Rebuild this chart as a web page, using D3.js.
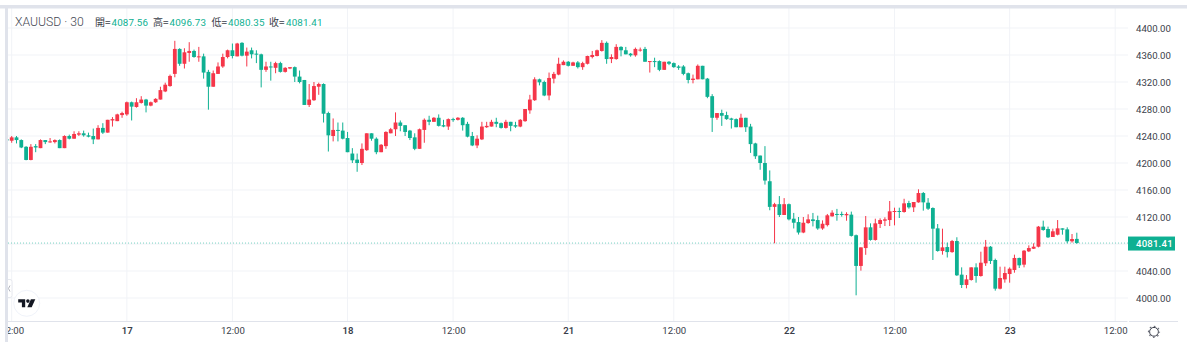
<!DOCTYPE html>
<html>
<head>
<meta charset="utf-8">
<script src="https://cdn.jsdelivr.net/npm/d3@7"></script>
<style>
    html, body { margin: 0; padding: 0; background: #fff; }
    svg { display: block; font-family: Roboto, sans-serif; }
</style>
</head>
<body>
<div id="chart"></div>
<script>
// 30 minute candles, first one is cut off by the left edge
const opens = [4235,
    4233,4238,4234,4224,4204.5,4225,4222,4234,4231,4231,
    4234,4222,4240,4236,4242,4244,4241,4240,4235,4252,
    4245,4263,4262,4271,4272,4290,4283,4289,4294,4285,
    4290,4294,4306,4314,4332,4369,4347,4363,4366,4357,
    4358,4335,4313,4332,4343,4357,4367,4358,4378,4359,
    4367,4362,4361,4338,4343,4341,4348,4335,4340,4342,
    4328,4323,4286,4293,4313,4317,4274,4240,4249,4248,
    4237,4214,4205,4200,4219,4244,4236,4216,4225,4244,
    4250,4260,4256,4248,4238,4221,4249,4264,4261,4267,
    4256,4254,4265,4264,4267,4258,4240,4226,4235,4253,
    4254,4261,4259,4252,4261,4256,4254,4262,4278,4293,
    4324,4320,4300,4325,4331,4345,4350,4344,4349,4342,
    4347,4357,4358.5,4366,4378,4354,4354,4372,4367,4362,
    4359.5,4367,4369,4350,4351,4351,4338,4350,4348,4343,
    4343,4333,4323,4324,4344,4325,4299,4267,4274,4271,
    4266,4265,4253,4267,4254,4229,4211,4200,4173,4135,
    4139,4123,4139,4117.5,4112.5,4097,4111,4116.5,4115.5,4103,
    4108,4121,4124.5,4124.5,4122.5,4123.5,4093,4047.5,4074,4104.7,
    4086,4109.6,4114.5,4115.5,4128.4,4128.9,4127.4,4140.7,4134.3,4141.7,
    4155.5,4141.2,4133.3,4103.2,4069.6,4075.5,4068,4084.4,4034.6,4019.3,
    4026.7,4045.4,4032.6,4051.4,4076,4056.3,4013.8,4027.6,4035.5,4041.5,
    4059.3,4049.4,4069.1,4073,4076,4105.7,4102.2,4090.4,4093.8,4103.2,
    4101.7,4084,4087.56]
const highs = [4236,
    4240,4240,4235,4225,4228,4228,4235,4234,4237,4235,
    4235,4241,4242,4247,4247,4248,4245,4251,4256,4259,
    4264,4268,4273,4276,4291,4291,4296,4299,4295,4291,
    4296,4313,4319,4331,4381,4370,4370,4379,4368,4372,
    4362,4338,4337,4349,4362,4368,4377,4378,4379,4371,
    4371,4367,4362,4350,4350,4350,4350,4342,4342,4343,
    4337,4323,4317,4320,4319,4318,4276,4266,4260,4260,
    4246,4222,4214,4229,4244,4244,4238,4228,4247,4252,
    4275,4263,4256,4249,4244,4251,4266,4270,4268,4272,
    4264,4266,4267,4268,4268,4261,4246,4241,4261,4261,
    4264,4267,4260,4264,4261,4261,4265,4280,4301,4327,
    4325,4322,4334,4335,4356,4352,4351,4350,4351,4350,
    4359,4366,4368,4382,4380,4361,4376,4373,4372,4363,
    4371,4371,4372,4351,4356,4352,4350,4351,4349,4345,
    4345,4334,4331,4346,4344,4326,4302,4274,4279,4276,
    4267,4266,4273,4267,4258,4230,4211,4225,4189,4141,
    4151,4148,4140,4126,4120,4120,4124,4126,4122,4115,
    4124.5,4130,4132,4128,4127,4128,4094,4075,4121.5,4110.6,
    4117.5,4118,4119.5,4143.7,4133.8,4133.8,4147,4144,4142.2,4161,
    4157,4148,4134.3,4109.6,4102.7,4082,4086,4090,4045.4,4034,
    4045.4,4051.4,4068.6,4086,4077,4058.3,4046.4,4046.4,4045.4,4064.2,
    4059.8,4071,4078,4081,4106.7,4114.6,4105.7,4102.7,4115.5,4103.2,
    4104.7,4094.8,4096.73]
const lows = [4233,
    4230,4229,4222,4204,4204,4216,4222,4228,4230,4229,
    4222,4222,4235,4236,4240,4239,4238,4228,4235,4243,
    4245,4254,4262,4267,4270,4263,4282,4288,4275,4284,
    4289,4294,4305,4313,4327,4344,4340,4350,4356,4350,
    4325,4279,4313,4332,4341,4355,4355,4358,4358,4343,
    4355,4348,4312,4335,4322,4333,4334,4334,4339,4320,
    4318,4286,4283,4292,4301,4260,4217,4232,4232,4235,
    4216,4200,4187,4197,4218,4233,4213,4216,4221,4244,
    4240,4247,4240,4234,4219,4221,4230,4256,4261,4254,
    4253,4249,4261,4263,4248,4238,4225,4222,4234,4252,
    4254,4253,4251,4251,4247,4252,4253,4261,4273,4292,
    4315,4299,4293,4318,4330,4345,4343,4344,4340,4338,
    4346,4355,4358,4365,4347,4348,4353,4358,4361,4357.5,
    4357.5,4365,4350,4334,4342,4336,4338,4345,4341,4338,
    4330,4318,4318,4324,4324,4296,4246,4264,4255,4264,
    4251,4253,4253,4246,4215,4206,4190,4168,4130,4081,
    4120,4123,4115,4103,4094,4096,4110,4106,4101,4101,
    4106,4120.5,4114.5,4120.5,4114.5,4091,4004,4040.5,4064,4085,
    4085,4103.7,4106.6,4106.6,4107.6,4118.5,4126.4,4132.3,4127.4,4141.2,
    4129.4,4130.4,4056.3,4068.6,4064.2,4060,4067,4032.6,4014.8,4014.3,
    4025.7,4022.7,4031.6,4047.4,4050.4,4010.9,4012.8,4022.7,4022.7,4037.5,
    4044.4,4045.4,4068.1,4072.6,4075,4099.7,4088.9,4090.4,4092.8,4093.8,
    4081,4082,4080.35]
const closes = [4234,
    4238,4234,4223,4204.5,4224,4223,4234,4231,4232,4234,
    4222,4240,4236,4243,4244,4241,4239,4235,4252,4245,
    4264,4265,4272,4274,4290,4283.5,4290,4294,4285,4290,
    4295,4308,4316,4329,4369,4347,4364,4366,4357,4358,
    4334,4313,4333,4343,4357,4367,4358.5,4377,4359,4365,
    4361,4361,4338,4343,4342,4348,4335,4341,4342,4328,
    4320,4286,4294,4314,4317,4273,4241,4249,4248,4236,
    4216,4204,4200,4221,4244,4236,4216,4227,4246,4250,
    4260,4255,4246,4237,4221,4250,4264,4261,4267,4255,
    4254,4265,4264.5,4267,4256,4239,4226,4236,4254,4255,
    4261,4258,4252,4261,4255,4254,4264,4280,4294,4324,
    4319.5,4300,4326,4332,4347,4350,4344,4349,4342,4348,
    4358.5,4360,4367,4378,4354,4357,4372,4367,4361,4359.5,
    4369,4368,4350,4351,4350.5,4338,4350,4347,4342,4341,
    4332,4323,4325,4344,4324,4298,4267,4274,4270,4265,
    4264,4253,4267,4253,4228,4210,4200,4174,4135,4139,
    4123,4139,4116.5,4111.5,4097,4111.5,4116.5,4114,4103,4110,
    4122.5,4126.4,4123.5,4123,4124.5,4092,4047.5,4075,4104.7,4086,
    4110.6,4115.5,4116.5,4128.4,4128.9,4127.9,4140.2,4134.3,4142.2,4155.5,
    4141.7,4132.3,4102.7,4069.6,4075,4068,4084.4,4033.6,4019.3,4027.6,
    4045.4,4032.6,4052.3,4076,4054.8,4013.8,4029.6,4037,4043.4,4059.3,
    4048.4,4070.1,4074,4076,4105.7,4100.7,4089.9,4098.8,4103.2,4101.2,
    4084,4087.4,4081.41]

const priceTicks = [4000,4040,4080,4120,4160,4200,4240,4280,4320,4360,4400]
const timeTickIndex = [1,25,47,71,93,117,139,163,185,209,231]
const timeTickLabels = ['12:00','17','12:00','18','12:00','21','12:00','22','12:00','23','12:00']
const symbolName = 'XAUUSD · 30'
const legendNames = ['開','高','低','收']
const legendValues = ['4087.56','4096.73','4080.35','4081.41']
const lastPrice = 4081.41

const width = 1187, height = 353
const green = '#0eb092', red = '#f53649', gridColor = '#f1f3f7', borderColor = '#e0e3eb'
const textColor = '#3a3e4a'
const plotLeft = 8, plotRight = 1128, plotBottom = 321

const x = d3.scaleLinear().domain([1, 231]).range([11.7, 1115.2])
const y = d3.scaleLinear().domain([4000, 4400]).range([298, 28])

const svg = d3.select('#chart').append('svg').attr('width', width).attr('height', height)

svg.append('defs').append('clipPath').attr('id', 'plotClip')
    .append('rect').attr('x', plotLeft).attr('y', 8).attr('width', plotRight - plotLeft).attr('height', plotBottom - 8)
svg.select('defs').append('clipPath').attr('id', 'timeClip')
    .append('rect').attr('x', plotLeft).attr('y', plotBottom).attr('width', plotRight + 40).attr('height', 30)

// grid lines
const grid = svg.append('g').attr('clip-path', 'url(#plotClip)')
grid.selectAll('line.h').data(priceTicks).join('line')
    .attr('class', 'h')
    .attr('x1', plotLeft).attr('x2', plotRight)
    .attr('y1', d => y(d)).attr('y2', d => y(d))
    .attr('stroke', gridColor)
grid.selectAll('line.v').data(timeTickIndex).join('line')
    .attr('class', 'v')
    .attr('x1', d => x(d)).attr('x2', d => x(d))
    .attr('y1', 8).attr('y2', plotBottom)
    .attr('stroke', gridColor)

// last price dotted line
svg.append('line')
    .attr('x1', plotLeft).attr('x2', plotRight)
    .attr('y1', y(lastPrice)).attr('y2', y(lastPrice))
    .attr('stroke', green).attr('stroke-dasharray', '1 2').attr('stroke-opacity', 0.55)

// candles
const candles = svg.append('g').attr('clip-path', 'url(#plotClip)')
const idx = d3.range(opens.length)
const candleColor = i => closes[i] >= opens[i] ? red : green
candles.selectAll('line').data(idx).join('line')
    .attr('x1', i => x(i)).attr('x2', i => x(i))
    .attr('y1', i => y(highs[i])).attr('y2', i => y(lows[i]))
    .attr('stroke', candleColor).attr('stroke-width', 1)
candles.selectAll('rect').data(idx).join('rect')
    .attr('x', i => x(i) - 1.9)
    .attr('width', 3.8)
    .attr('y', i => y(Math.max(opens[i], closes[i])))
    .attr('height', i => Math.max(1, Math.abs(y(opens[i]) - y(closes[i]))))
    .attr('fill', candleColor)

// left and top borders
svg.append('rect').attr('x', 0).attr('y', 5).attr('width', width).attr('height', 3.5).attr('fill', borderColor)
svg.append('rect').attr('x', 5).attr('y', 5).attr('width', 3).attr('height', 337).attr('fill', borderColor)

// price axis
const yAxis = d3.axisRight(y).tickValues(priceTicks.filter(d => d !== 4080)).tickSize(0).tickPadding(0).tickFormat(d3.format('.2f'))
const yG = svg.append('g').attr('transform', 'translate(1136,0)').call(yAxis)
yG.select('.domain').remove()
yG.selectAll('text').attr('fill', textColor).style('font-size', '9.6px').style('font-family', 'Roboto, sans-serif')

// time axis
const xAxis = d3.axisBottom(x).tickValues(timeTickIndex).tickSize(0).tickPadding(0)
    .tickFormat(d => timeTickLabels[timeTickIndex.indexOf(d)])
const xG = svg.append('g').attr('clip-path', 'url(#timeClip)')
    .append('g').attr('transform', `translate(0,${plotBottom + 6})`).call(xAxis)
xG.select('.domain').remove()
xG.selectAll('text').attr('fill', textColor).style('font-size', '9.6px').style('font-family', 'Roboto, sans-serif')
    .style('font-weight', d => timeTickLabels[timeTickIndex.indexOf(d)].length < 3 ? 600 : 400)

svg.append('line').attr('x1', plotLeft).attr('x2', plotRight - 0.5).attr('y1', plotBottom + 0.5).attr('y2', plotBottom + 0.5)
    .attr('stroke', borderColor)
svg.append('line').attr('x1', plotRight + 1).attr('x2', 1178).attr('y1', plotBottom + 0.5).attr('y2', plotBottom + 0.5)
    .attr('stroke', borderColor)

// last price label
svg.append('rect').attr('x', plotRight).attr('y', y(lastPrice) - 6.5).attr('width', 47).attr('height', 14).attr('fill', green)
svg.append('text').attr('x', 1136).attr('y', y(lastPrice) + 3.8)
    .attr('fill', '#fff').style('font-size', '9.6px').style('font-weight', 500).style('letter-spacing', '0.2px')
    .text(lastPrice.toFixed(2))

// legend
svg.append('text').attr('x', 15).attr('y', 26).attr('fill', '#454854')
    .style('font-size', '12.2px').style('font-weight', 300).text(symbolName)
const legendX = [95, 153, 211.5, 269]
const legendValueX = [111.5, 169.5, 228, 286]
legendNames.forEach((name, i) => {
    svg.append('text').attr('x', legendX[i]).attr('y', 26).attr('fill', textColor)
        .style('font-size', '10px').style('font-family', '"Noto Sans CJK TC", sans-serif').text(name + '=')
    svg.append('text').attr('x', legendValueX[i]).attr('y', 26).attr('fill', green)
        .style('font-size', '9.8px').style('letter-spacing', '0.15px').text(legendValues[i])
})

// logo badge bottom left
const logo = svg.append('g').attr('transform', 'translate(26.7,303.3)')
logo.append('circle').attr('r', 13).attr('fill', '#fff').attr('stroke', '#f0f3fa').attr('stroke-width', 1)
logo.append('path').attr('d', 'M-8.5,-4H-1.5V4H-4.8V-0.8H-8.5Z').attr('fill', '#131722')
logo.append('circle').attr('cx', 1.2).attr('cy', -2.2).attr('r', 1.8).attr('fill', '#131722')
logo.append('path').attr('d', 'M4.2,-4H8.6L5,4H0.6Z').attr('fill', '#131722')

// collapse tab on the left edge
svg.append('path').attr('d', 'M8,279.5h2a2,2 0 0 1 2,2v14a2,2 0 0 1 -2,2h-2').attr('fill', '#fff').attr('stroke', '#e6e8ee')
svg.append('path').attr('d', 'M10,285.5l-1.5,3l1.5,3').attr('fill', 'none').attr('stroke', '#b2b5be')

// settings gear
const gear = svg.append('g').attr('transform', 'translate(1154,331.8)')
gear.append('circle').attr('r', 4.4).attr('fill', 'none').attr('stroke', textColor).attr('stroke-width', 1)
gear.append('circle').attr('r', 5.5).attr('fill', 'none').attr('stroke', '#6a6d78').attr('stroke-width', 1.2).attr('stroke-dasharray', '1.7 2.62').attr('stroke-dashoffset', 0.85)
</script>
</body>
</html>
